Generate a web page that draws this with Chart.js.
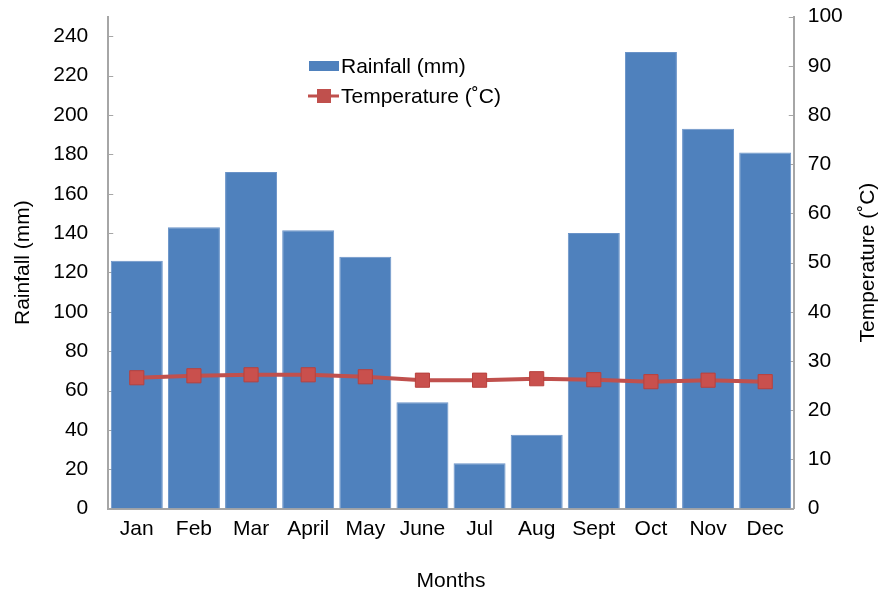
<!DOCTYPE html>
<html>
<head>
<meta charset="utf-8">
<script src="https://cdn.jsdelivr.net/npm/chart.js@4"></script>
<style>
  html, body { margin: 0; padding: 0; background: #fff; }
  #wrap { width: 887px; height: 592px; }
</style>
</head>
<body>
<div id="wrap"><canvas id="myChart" width="887" height="592"></canvas></div>
<script>
// Datos
const months = ['Jan', 'Feb', 'Mar', 'April', 'May', 'June', 'Jul', 'Aug', 'Sept', 'Oct', 'Nov', 'Dec'];
const rainfall = [126, 143, 171, 141.5, 128, 54, 23, 37.5, 140, 232, 193, 181];
const temperature = [26.6, 27.0, 27.2, 27.2, 26.8, 26.1, 26.1, 26.4, 26.2, 25.8, 26.1, 25.8];

// Ticks del eje izquierdo (el eje llega a 250 pero sólo se etiqueta hasta 240)
const rainTicks = [0, 20, 40, 60, 80, 100, 120, 140, 160, 180, 200, 220, 240];

const fuente = "'Liberation Sans', Arial, sans-serif";
const tamFuente = 21;
const azul = '#4F81BD';
const rojo = '#C0504D';
const gris = '#A6A6A6';

// Leyenda, título derecho y marcas interiores de los ejes
const extras = {
	id: 'extras',
	beforeDatasetsDraw(chart) {
		const ctx = chart.ctx;
		const area = chart.chartArea;
		ctx.save();
		ctx.strokeStyle = gris;
		ctx.lineWidth = 1;
		chart.scales.y.ticks.forEach(t => {
			const py = Math.round(chart.scales.y.getPixelForValue(t.value)) + 0.5;
			ctx.beginPath(); ctx.moveTo(area.left, py); ctx.lineTo(area.left + 5, py); ctx.stroke();
		});
		chart.scales.y2.ticks.forEach(t => {
			const py = Math.round(chart.scales.y2.getPixelForValue(t.value)) + 0.5;
			ctx.beginPath(); ctx.moveTo(area.right, py); ctx.lineTo(area.right - 5, py); ctx.stroke();
		});
		ctx.restore();
	},
	afterDraw(chart) {
		const ctx = chart.ctx;
		const area = chart.chartArea;
		ctx.save();
		ctx.font = tamFuente + 'px ' + fuente;
		ctx.textBaseline = 'middle';
		// Rainfall
		ctx.fillStyle = azul;
		ctx.fillRect(309, 61, 30, 10);
		ctx.fillStyle = '#000';
		ctx.fillText('Rainfall (mm)', 341, 67);
		// Temperature
		ctx.strokeStyle = rojo;
		ctx.lineWidth = 3;
		ctx.beginPath();
		ctx.moveTo(308, 96);
		ctx.lineTo(339, 96);
		ctx.stroke();
		ctx.fillStyle = rojo;
		ctx.fillRect(317, 89, 14, 14);
		ctx.fillStyle = '#000';
		ctx.fillText('Temperature (˚C)', 341, 97);
		// Título eje derecho, leído de abajo arriba
		ctx.translate(868, (area.top + area.bottom) / 2);
		ctx.rotate(-Math.PI / 2);
		ctx.textAlign = 'center';
		ctx.fillText('Temperature (˚C)', 0, 0);
		ctx.restore();
	}
};

const config = {
	type: 'bar',
	data: {
		labels: months,
		datasets: [
			{
				type: 'line',
				label: 'Temperature (˚C)',
				data: temperature,
				yAxisID: 'y2',
				borderColor: rojo,
				backgroundColor: rojo,
				borderWidth: 4,
				pointStyle: 'rect',
				pointRadius: 10,
				pointBorderWidth: 1,
				pointBorderColor: '#B8403D',
				pointBackgroundColor: '#C9504D',
				tension: 0,
				order: 0
			},
			{
				label: 'Rainfall (mm)',
				data: rainfall,
				yAxisID: 'y',
				backgroundColor: azul,
				borderColor: '#6A93C8',
				borderWidth: 1,
				barPercentage: 0.91,
				categoryPercentage: 1.0,
				order: 1
			}
		]
	},
	options: {
		responsive: false,
		animation: false,
		layout: { padding: { top: 0, right: 0, left: 8, bottom: 0 } },
		plugins: {
			legend: { display: false },
			tooltip: { enabled: false }
		},
		scales: {
			x: {
				grid: { display: false },
				border: { color: gris, width: 2 },
				ticks: { color: '#000', font: { family: fuente, size: tamFuente }, padding: 0 },
				title: { display: true, text: 'Months', color: '#000', font: { family: fuente, size: tamFuente }, padding: { top: 27, bottom: -2 } }
			},
			y: {
				position: 'left',
				min: 0,
				max: 250,
				afterBuildTicks(axis) { axis.ticks = rainTicks.map(v => ({ value: v })); },
				grid: { display: false, tickLength: 16, tickColor: 'rgba(0,0,0,0)' },
				border: { color: gris, width: 2 },
				ticks: { stepSize: 20, color: '#000', font: { family: fuente, size: tamFuente }, padding: 4 },
				title: { display: true, text: 'Rainfall (mm)', color: '#000', font: { family: fuente, size: tamFuente }, padding: { top: 3, bottom: 13 } }
			},
			y2: {
				position: 'right',
				min: 0,
				max: 100,
				grid: { display: false, tickLength: 10, tickColor: 'rgba(0,0,0,0)' },
				border: { color: gris, width: 2 },
				ticks: { stepSize: 10, color: '#000', font: { family: fuente, size: tamFuente }, padding: 4 },
				title: { display: true, text: 'Temperature (˚C)', color: 'rgba(0,0,0,0)', font: { family: fuente, size: tamFuente }, padding: { top: 15, bottom: 0 } }
			}
		}
	},
	plugins: [extras]
};

const myChart = new Chart(document.getElementById('myChart'), config);
</script>
</body>
</html>
